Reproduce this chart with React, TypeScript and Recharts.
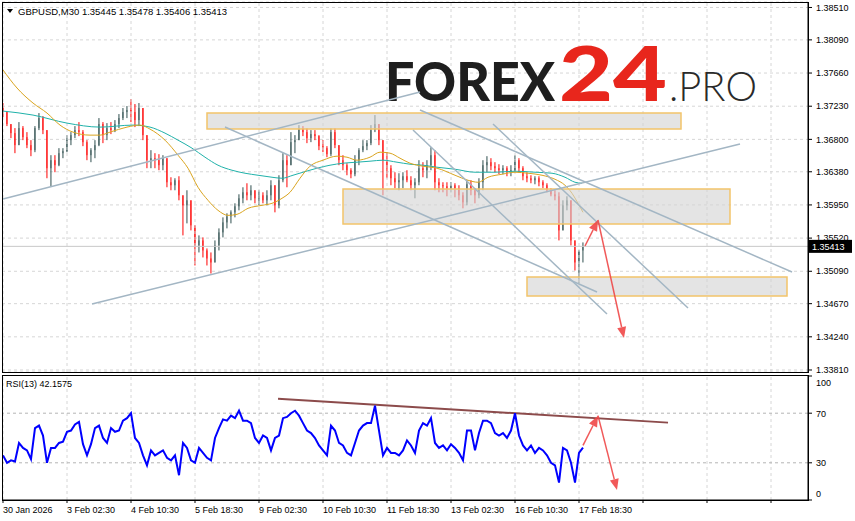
import React from 'react'
import {
  ComposedChart,
  Bar,
  Line,
  XAxis,
  YAxis,
  CartesianGrid,
  ReferenceArea,
  ReferenceLine,
} from 'recharts'

const FONT = '"Liberation Sans", Arial, sans-serif'
const BULL = '#2F4F4F'
const BEAR = '#FF0000'
const ARROW = '#F04848'
const TREND = '#A3B6C4'
const GRID = '#D6D6D6'

// GBPUSD M30, sampled every 4 bars (bar index = M30 bars from 30 Jan)
const highs = [
  1.37271, 1.37141, 1.36998, 1.36946, 1.37024, 1.36972, 1.36894, 1.3679, 1.36972, 1.37141,
  1.37102, 1.3692, 1.36595, 1.36595, 1.36686, 1.36686, 1.36855, 1.36894, 1.36972, 1.37024,
  1.3692, 1.3679, 1.36686, 1.3679, 1.37076, 1.37024, 1.37011, 1.37024, 1.3705, 1.37128,
  1.37206, 1.37232, 1.37323, 1.37258, 1.37271, 1.37206, 1.36855, 1.3666, 1.36621, 1.36608,
  1.36595, 1.36556, 1.36309, 1.36296, 1.36322, 1.36075, 1.3614, 1.35971, 1.35685, 1.35555,
  1.35529, 1.35386, 1.35334, 1.3549, 1.35646, 1.35789, 1.35841, 1.3588, 1.35971, 1.36088,
  1.36179, 1.36231, 1.36205, 1.3614, 1.3614, 1.36114, 1.3614, 1.3627, 1.36075, 1.36335,
  1.36621, 1.36595, 1.36894, 1.36855, 1.36985, 1.36972, 1.36946, 1.3692, 1.3692, 1.36855,
  1.3679, 1.36712, 1.36946, 1.36946, 1.36725, 1.36595, 1.36491, 1.36426, 1.36595, 1.36686,
  1.3679, 1.3679, 1.36985, 1.37115, 1.36998, 1.3679, 1.36634, 1.36465, 1.36374, 1.36361,
  1.36374, 1.364, 1.36322, 1.36296, 1.3653, 1.36504, 1.3653, 1.36699, 1.3666, 1.36296,
  1.36244, 1.36244, 1.36244, 1.36231, 1.36205, 1.36114, 1.3627, 1.3627, 1.36166, 1.36296,
  1.3653, 1.36582, 1.36556, 1.36504, 1.36478, 1.36465, 1.36452, 1.36465, 1.36595, 1.36556,
  1.36452, 1.36374, 1.36335, 1.36322, 1.36322, 1.3627, 1.36231, 1.36166, 1.3614, 1.36114,
  1.3601, 1.36062, 1.3601, 1.3549, 1.35295, 1.35464,
]
const lows = [
  1.37089, 1.36972, 1.36816, 1.36621, 1.36725, 1.3679, 1.36686, 1.36582, 1.36634, 1.3692,
  1.36868, 1.36296, 1.36192, 1.36374, 1.36452, 1.36556, 1.36634, 1.36725, 1.36816, 1.36842,
  1.36712, 1.3653, 1.36504, 1.36556, 1.36712, 1.36751, 1.3679, 1.36868, 1.36894, 1.36946,
  1.3705, 1.37076, 1.37024, 1.36959, 1.36972, 1.3679, 1.36426, 1.36426, 1.36426, 1.364,
  1.364, 1.36179, 1.3614, 1.3614, 1.3601, 1.35555, 1.35711, 1.3562, 1.35165, 1.35334,
  1.35269, 1.35165, 1.35061, 1.35204, 1.3536, 1.35529, 1.35646, 1.35711, 1.35789, 1.3588,
  1.35971, 1.3601, 1.3601, 1.35971, 1.35945, 1.35971, 1.35945, 1.3601, 1.35854, 1.35906,
  1.36244, 1.36179, 1.36465, 1.36621, 1.36816, 1.36842, 1.36751, 1.36764, 1.3679, 1.3666,
  1.36634, 1.36569, 1.36582, 1.36686, 1.36465, 1.364, 1.36335, 1.36296, 1.36322, 1.36465,
  1.36634, 1.3666, 1.36725, 1.36894, 1.36725, 1.36075, 1.36296, 1.36205, 1.36166, 1.3614,
  1.36166, 1.36244, 1.3614, 1.36036, 1.36205, 1.36309, 1.36296, 1.364, 1.3614, 1.36114,
  1.36114, 1.36062, 1.36114, 1.36049, 1.3601, 1.35906, 1.35945, 1.36075, 1.35971, 1.36036,
  1.3614, 1.36374, 1.364, 1.36374, 1.36348, 1.36348, 1.36322, 1.36322, 1.36374, 1.36374,
  1.3627, 1.36244, 1.36231, 1.36218, 1.36192, 1.36166, 1.36114, 1.36062, 1.3601, 1.3549,
  1.3562, 1.3588, 1.35425, 1.351, 1.34931, 1.35204,
]
const closes = [
  1.37154, 1.36998, 1.36881, 1.36725, 1.36946, 1.36829, 1.36725, 1.3666, 1.36946, 1.37076,
  1.3692, 1.36426, 1.3653, 1.36465, 1.36621, 1.36647, 1.3679, 1.36855, 1.3692, 1.36894,
  1.36764, 1.36595, 1.3666, 1.36725, 1.36998, 1.36855, 1.36946, 1.3692, 1.36998, 1.37076,
  1.37154, 1.3718, 1.37154, 1.3705, 1.37206, 1.36855, 1.3653, 1.36556, 1.3653, 1.36465,
  1.36556, 1.36244, 1.36205, 1.3627, 1.36075, 1.35945, 1.3601, 1.35685, 1.35425, 1.3549,
  1.3536, 1.35256, 1.35204, 1.35425, 1.35594, 1.35724, 1.35802, 1.35854, 1.35932, 1.36036,
  1.36114, 1.36075, 1.3614, 1.36036, 1.36075, 1.3601, 1.36075, 1.36205, 1.35945, 1.3627,
  1.3653, 1.36465, 1.36764, 1.3679, 1.36946, 1.36894, 1.36816, 1.36868, 1.36842, 1.36712,
  1.36686, 1.36608, 1.36894, 1.36725, 1.3653, 1.36465, 1.364, 1.36348, 1.3653, 1.3666,
  1.36712, 1.36751, 1.3692, 1.36998, 1.3679, 1.3653, 1.36426, 1.36296, 1.36244, 1.3627,
  1.36322, 1.3627, 1.36205, 1.36244, 1.36426, 1.364, 1.36465, 1.36595, 1.36244, 1.36205,
  1.36192, 1.36166, 1.36205, 1.36166, 1.36075, 1.35984, 1.36218, 1.3614, 1.36075, 1.36244,
  1.36465, 1.36504, 1.36452, 1.36426, 1.364, 1.36426, 1.36374, 1.364, 1.3653, 1.36426,
  1.36322, 1.36296, 1.3627, 1.36296, 1.36244, 1.36205, 1.3614, 1.36088, 1.36062, 1.3562,
  1.35945, 1.3601, 1.3549, 1.35204, 1.3536, 1.35413,
]
const firstOpen = 1.3721
const lastClose = 1.35413

// RSI(13), same sampling
const rsi = [
  36, 30, 32, 31, 46, 42, 40, 33, 58, 60,
  52, 30, 42, 42, 46, 47, 55, 56, 61, 63,
  45, 36, 45, 58, 60, 50, 46, 58, 55, 56,
  64, 66, 70, 50, 46, 36, 28, 40, 36, 38,
  40, 34, 32, 36, 20, 46, 42, 32, 30, 42,
  38, 34, 32, 50, 58, 65, 64, 68, 66, 72,
  64, 64, 62, 50, 46, 52, 50, 40, 50, 52,
  66, 67, 70, 72, 68, 62, 56, 54, 50, 44,
  40, 36, 60, 56, 46, 44, 38, 36, 46, 56,
  60, 62, 62, 76, 56, 36, 42, 38, 38, 36,
  40, 48, 44, 38, 56, 62, 60, 66, 46, 42,
  44, 40, 45, 42, 38, 32, 56, 56, 40, 54,
  64, 64, 62, 54, 52, 54, 50, 56, 70, 52,
  44, 40, 44, 38, 42, 40, 36, 30, 28, 14,
  42, 40, 30, 14, 38, 42.1575,
]

// moving averages
const fastMaBars = [0, 14, 30, 44, 57, 70, 87, 97, 107, 124, 137, 147, 162, 175, 185, 195, 205, 215, 225, 234, 245, 259, 269, 279, 287, 297, 307, 320, 334, 344, 354, 367, 377, 387, 397, 407, 420, 434, 452, 465, 475, 485, 499, 512, 525, 539, 552, 562, 569, 575, 580]
const fastMa = [1.377, 1.37466, 1.37271, 1.37141, 1.36985, 1.36894, 1.36855, 1.36855, 1.36894, 1.36959, 1.36985, 1.36933, 1.3679, 1.36595, 1.36426, 1.36179, 1.3601, 1.3588, 1.35815, 1.35828, 1.35906, 1.35945, 1.35971, 1.36036, 1.36114, 1.36296, 1.36452, 1.3653, 1.36582, 1.36569, 1.3653, 1.36569, 1.36634, 1.36621, 1.36556, 1.36491, 1.36452, 1.36426, 1.36335, 1.3627, 1.36244, 1.36309, 1.36348, 1.36374, 1.36361, 1.36335, 1.36283, 1.36205, 1.36101, 1.35971, 1.35854]
const slowMaBars = [0, 30, 64, 97, 130, 147, 162, 175, 189, 202, 215, 229, 242, 255, 269, 279, 290, 300, 314, 327, 340, 354, 367, 380, 394, 407, 420, 434, 452, 472, 492, 512, 532, 549, 562, 572, 579]
const slowMa = [1.37167, 1.37115, 1.37011, 1.36959, 1.36985, 1.36959, 1.36881, 1.3679, 1.36686, 1.36569, 1.36465, 1.364, 1.36361, 1.36335, 1.36309, 1.36296, 1.36335, 1.36374, 1.36426, 1.36465, 1.36491, 1.36504, 1.36517, 1.3653, 1.36504, 1.36478, 1.36465, 1.36439, 1.36413, 1.36374, 1.36374, 1.36387, 1.36374, 1.36361, 1.36309, 1.36244, 1.36231]

// drawn objects: [bar1, price1, bar2, price2]
const trendLines = [
  [0, 1.36027, 417, 1.37414],
  [89, 1.34666, 737, 1.3674],
  [222, 1.3696, 594, 1.34821],
  [410, 1.36922, 604, 1.34536],
  [417, 1.37181, 789, 1.3508],
  [490, 1.36999, 685, 1.34614],
]
// zones: [bar1, bar2, priceTop, priceBottom]
const zones = [
  [204, 678, 1.37142, 1.36935],
  [340, 727, 1.36157, 1.35703],
  [524, 784, 1.35016, 1.34769],
]
const priceArrows = [
  [582, 1.35418, 595, 1.35755],
  [595, 1.35755, 621, 1.34225],
]
const rsiTrend = [275, 81.6, 665, 62.4]
const rsiArrows = [
  [580, 44, 595, 68],
  [595, 68, 614, 8],
]

const priceTicks = [1.3851, 1.3809, 1.3766, 1.3723, 1.368, 1.3638, 1.3595, 1.3552, 1.3509, 1.3467, 1.3424, 1.3381]
const dateTicks = [0, 64, 128, 192, 256, 320, 384, 448, 512, 576, 640, 704, 768]
const dateLabels = ['30 Jan 2026', '3 Feb 02:30', '4 Feb 10:30', '5 Feb 18:30', '9 Feb 02:30', '10 Feb 10:30', '11 Feb 18:30', '13 Feb 02:30', '16 Feb 10:30', '17 Feb 18:30']
const rsiTicks = [0, 30, 70, 100]
const priceDomain = [1.33784, 1.38581]
const barDomain = [-1, 805]

const candles = closes.map((c, i) => {
  const open = i === 0 ? firstOpen : closes[i - 1]
  return { bar: i * 4, open, close: c, high: highs[i], low: lows[i], range: [lows[i], highs[i]] }
})
const fastRows = fastMaBars.map((b, i) => ({ bar: b, v: fastMa[i] }))
const slowRows = slowMaBars.map((b, i) => ({ bar: b, v: slowMa[i] }))
const rsiRows = rsi.map((v, i) => ({ bar: i * 4, v }))

const Candle = (props: any) => {
  const { x, y, width, height, payload } = props
  if (!payload) return null
  const { open, close, high, low } = payload
  const color = close >= open ? BULL : BEAR
  const top0 = Math.min(y, y + height)
  const h = Math.abs(height)
  const k = high > low ? h / (high - low) : 0
  const bTop = top0 + (high - Math.max(open, close)) * k
  const bBot = top0 + (high - Math.min(open, close)) * k
  const cx = x + width / 2
  return (
    <g>
      <line x1={cx} x2={cx} y1={Math.min(top0, bTop)} y2={Math.max(top0 + h, bBot)} stroke={color} strokeWidth={1} />
      <rect x={x} y={bTop} width={width} height={Math.max(1, bBot - bTop)} fill={color} />
    </g>
  )
}

const Arrow = (p: any) => {
  const { x1, y1, x2, y2 } = p
  const a = Math.atan2(y2 - y1, x2 - x1)
  const L = 11
  const W = 4.5
  const bx = x2 - L * Math.cos(a)
  const by = y2 - L * Math.sin(a)
  const pts = `${x2},${y2} ${bx + W * Math.sin(a)},${by - W * Math.cos(a)} ${bx - W * Math.sin(a)},${by + W * Math.cos(a)}`
  return (
    <g opacity={0.9}>
      <line x1={x1} y1={y1} x2={bx} y2={by} stroke={ARROW} strokeWidth={1.5} />
      <polygon points={pts} fill={ARROW} />
    </g>
  )
}

const PriceTag = (props: any) => {
  const vb = props.viewBox
  if (!vb) return null
  const x = vb.x + vb.width + 1
  return (
    <g>
      <rect x={x} y={vb.y - 6.5} width={43} height={13} fill="#000" />
      <text x={x + 3} y={vb.y + 3.5} fill="#fff" fontSize={9} fontFamily={FONT}>
        {lastClose.toFixed(5)}
      </text>
    </g>
  )
}

// y is local to the RSI chart; the end labels sit inside the panel
const RsiTick = (props: any) => {
  const { x, y, payload } = props
  const ty = Math.min(118, Math.max(7, y))
  return (
    <text x={x} y={ty + 3.5} fontSize={9} fontFamily={FONT} fill="#000">
      {payload.value}
    </text>
  )
}

const DateTick = (props: any) => {
  const { x, y, index } = props
  return (
    <text x={x} y={y + 8} fontSize={9} fontFamily={FONT} fill="#000">
      {dateLabels[index] || ''}
    </text>
  )
}

function PriceChart() {
  return (
    <ComposedChart width={855} height={375} data={candles} margin={{ top: 2, right: 0, bottom: 3, left: 2 }}>
      <CartesianGrid vertical={false} stroke={GRID} strokeDasharray="3 3" />
      <XAxis type="number" dataKey="bar" domain={barDomain} allowDataOverflow hide />
      <YAxis
        orientation="right"
        domain={priceDomain}
        allowDataOverflow
        ticks={priceTicks}
        interval={0}
        width={47}
        tickFormatter={(v: number) => v.toFixed(5)}
        tick={{ fontSize: 9, fill: '#000', fontFamily: FONT }}
        tickSize={4}
        tickMargin={4}
        axisLine={{ stroke: '#000' }}
        tickLine={{ stroke: '#000' }}
      />
      {dateTicks.map((t) => (
        <ReferenceLine key={'v' + t} x={t} stroke={GRID} strokeDasharray="3 3" />
      ))}
      <ReferenceLine y={lastClose} stroke="#C8C8C8" />
      <Bar dataKey="range" barSize={3} shape={Candle} isAnimationActive={false} />
      <Line data={slowRows} dataKey="v" type="monotone" stroke="#20B2AA" strokeWidth={1} dot={false} isAnimationActive={false} />
      <Line data={fastRows} dataKey="v" type="monotone" stroke="#DAA520" strokeWidth={1} dot={false} isAnimationActive={false} />
    </ComposedChart>
  )
}

// drawn objects sit on top of the candles, as in the terminal
function PriceObjects() {
  return (
    <ComposedChart width={855} height={375} data={candles} margin={{ top: 2, right: 0, bottom: 3, left: 2 }}>
      <XAxis type="number" dataKey="bar" domain={barDomain} allowDataOverflow hide />
      <YAxis orientation="right" domain={priceDomain} allowDataOverflow width={47} tick={false} axisLine={false} tickLine={false} />
      {zones.map((z, i) => (
        <ReferenceArea
          key={'z' + i}
          x1={z[0]}
          x2={z[1]}
          y1={z[3]}
          y2={z[2]}
          fill="#D4D4D4"
          fillOpacity={0.62}
          stroke="#F2C46A"
          strokeWidth={1.5}
        />
      ))}
      {trendLines.map((l, i) => (
        <ReferenceLine
          key={'t' + i}
          segment={[{ x: l[0], y: l[1] }, { x: l[2], y: l[3] }]}
          stroke={TREND}
          strokeWidth={1.5}
        />
      ))}
      {priceArrows.map((l, i) => (
        <ReferenceLine key={'a' + i} segment={[{ x: l[0], y: l[1] }, { x: l[2], y: l[3] }]} shape={Arrow} />
      ))}
      <ReferenceLine y={lastClose} stroke="none" label={{ content: PriceTag }} />
    </ComposedChart>
  )
}

function RsiChart() {
  return (
    <ComposedChart width={855} height={146} data={rsiRows} margin={{ top: 1, right: 0, bottom: 0, left: 2 }}>
      <XAxis
        type="number"
        dataKey="bar"
        domain={barDomain}
        allowDataOverflow
        ticks={dateTicks}
        interval={0}
        height={21}
        tick={DateTick}
        tickSize={3}
        axisLine={{ stroke: '#000' }}
        tickLine={{ stroke: '#000' }}
      />
      <YAxis
        orientation="right"
        domain={[0, 100]}
        allowDataOverflow
        ticks={rsiTicks}
        interval={0}
        width={47}
        tick={RsiTick}
        tickSize={4}
        tickMargin={4}
        axisLine={{ stroke: '#000' }}
        tickLine={{ stroke: '#000' }}
      />
      {dateTicks.map((t) => (
        <ReferenceLine key={'v' + t} x={t} stroke={GRID} strokeDasharray="3 3" />
      ))}
      <ReferenceLine y={70} stroke="#B4B4B4" strokeDasharray="3 3" />
      <ReferenceLine y={30} stroke="#B4B4B4" strokeDasharray="3 3" />
      <ReferenceLine
        segment={[{ x: rsiTrend[0], y: rsiTrend[1] }, { x: rsiTrend[2], y: rsiTrend[3] }]}
        stroke="#8C4B4B"
        strokeWidth={2}
      />
      <Line dataKey="v" type="linear" stroke="#0000FF" strokeWidth={2} dot={false} isAnimationActive={false} />
      {rsiArrows.map((l, i) => (
        <ReferenceLine key={'a' + i} segment={[{ x: l[0], y: l[1] }, { x: l[2], y: l[3] }]} shape={Arrow} />
      ))}
    </ComposedChart>
  )
}

export default function App() {
  return (
    <div style={{ position: 'absolute', left: 0, top: 0, width: 855, height: 521, background: '#fff', overflow: 'hidden', fontFamily: FONT }}>
      <div style={{ position: 'absolute', left: 0, top: 0 }}>
        <PriceChart />
      </div>
      <svg width={855} height={521} style={{ position: 'absolute', left: 0, top: 0, pointerEvents: 'none' }}>
        <text x={385} y={101} fontSize={53} fontWeight={900} fontFamily="Lato, Roboto, sans-serif" fill="#1E1E1E" textLength={170} lengthAdjust="spacingAndGlyphs">
          FOREX
        </text>
        <text x={559} y={101} fontSize={77} fontWeight={900} fontFamily="Lato, Roboto, sans-serif" fill="#E8261C" textLength={108} lengthAdjust="spacingAndGlyphs">
          24
        </text>
        <text x={669} y={101} fontSize={42} fontWeight={300} fontFamily="Lato, Roboto, sans-serif" fill="#2A2A2A" textLength={88} lengthAdjust="spacingAndGlyphs">
          .PRO
        </text>
      </svg>
      <div style={{ position: 'absolute', left: 0, top: 0, pointerEvents: 'none' }}>
        <PriceObjects />
      </div>
      <div style={{ position: 'absolute', left: 0, top: 375 }}>
        <RsiChart />
      </div>
      <div style={{ position: 'absolute', left: 2, top: 2, width: 807, height: 371, border: '1px solid #000', boxSizing: 'border-box', pointerEvents: 'none' }} />
      <div style={{ position: 'absolute', left: 2, top: 375, width: 807, height: 126, border: '1px solid #000', boxSizing: 'border-box', pointerEvents: 'none' }} />
      <svg width={855} height={521} style={{ position: 'absolute', left: 0, top: 0, pointerEvents: 'none' }}>
        <polygon points="7,9 13,9 10,13" fill="#000" />
        <text x={18} y={14.5} fontSize={9.5} fontFamily={FONT} fill="#000">
          GBPUSD,M30  1.35445 1.35478 1.35406 1.35413
        </text>
        <text x={6} y={386.5} fontSize={9} fontFamily={FONT} fill="#000">
          RSI(13) 42.1575
        </text>
      </svg>
    </div>
  )
}
